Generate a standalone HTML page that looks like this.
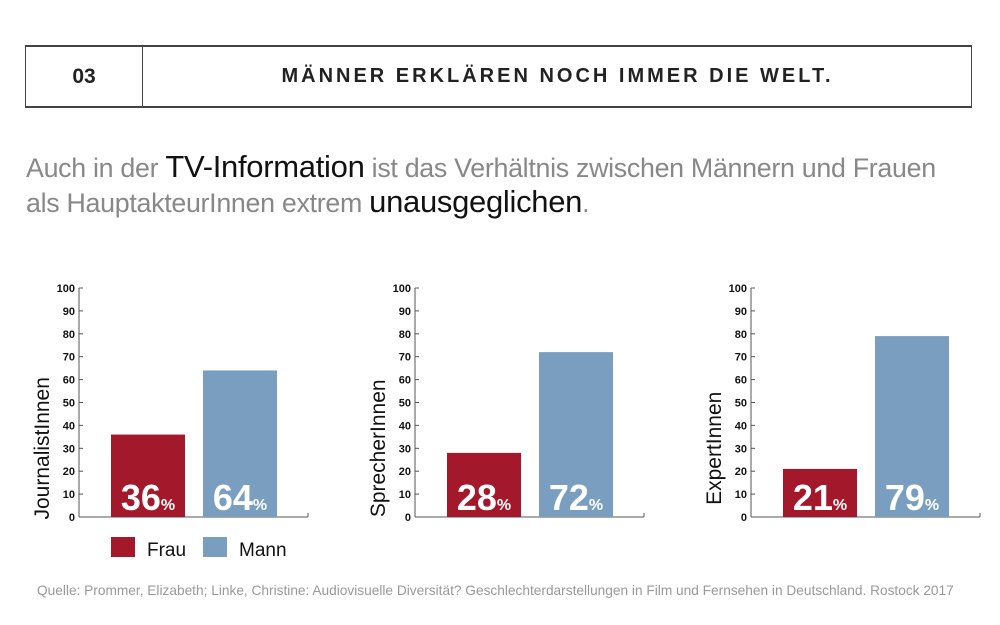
<!DOCTYPE html>
<html><head><meta charset="utf-8"><style>
body{margin:0;background:#fff;width:1000px;height:625px;overflow:hidden;font-family:"Liberation Sans","DejaVu Sans",sans-serif}
#hdr{position:absolute;left:25px;top:45px;width:945px;height:59px;border:2px solid #444;border-left:1.5px solid #444;border-right:1.5px solid #444}
#num{position:absolute;left:0;top:0;width:116px;height:59px;border-right:1.5px solid #444;font-weight:bold;font-size:21px;line-height:59px;text-align:center;color:#222}
#ttl{position:absolute;left:118px;right:0;top:0;height:59px;line-height:59px;text-align:center;font-weight:bold;font-size:20px;letter-spacing:3px;color:#222}
#intro{position:absolute;left:26px;top:150px;font-size:26.8px;color:#888;line-height:34px;font-weight:300;white-space:nowrap;letter-spacing:-0.3px}
#intro b{color:#111;font-weight:normal;font-size:31px}
#src{position:absolute;left:37px;top:583px;font-size:13.7px;color:#999;white-space:nowrap}
</style></head><body>
<div id="hdr"><div id="num">03</div><div id="ttl">MÄNNER ERKLÄREN NOCH IMMER DIE WELT.</div></div>
<div id="intro">Auch in der <b>TV-Information</b> ist das Verhältnis zwischen Männern und Frauen<br>als HauptakteurInnen extrem <b>unausgeglichen</b>.</div>
<svg id="chart" width="1000" height="625" style="position:absolute;left:0;top:0"></svg>
<div id="src">Quelle: Prommer, Elizabeth; Linke, Christine: Audiovisuelle Diversität? Geschlechterdarstellungen in Film und Fernsehen in Deutschland. Rostock 2017</div>
<script>
const categories=["JournalistInnen","SprecherInnen","ExpertInnen"];
const frauValues=[36,28,21];
const mannValues=[64,72,79];
const ticks=[0,10,20,30,40,50,60,70,80,90,100];
const NS="http://www.w3.org/2000/svg";
const svg=document.getElementById('chart');
const RED="#a3182a",BLUE="#7a9ebf";
function y(v){return 517-v*2.29;}
function mk(t,a,p){const e=document.createElementNS(NS,t);for(const k in a)e.setAttribute(k,a[k]);(p||svg).appendChild(e);return e;}
categories.forEach((c,i)=>{
  const ax=79+i*336;
  const g=mk('g',{});
  
  
  mk('line',{x1:ax,y1:y(100),x2:ax,y2:517,stroke:'#555','stroke-width':1},g);
  mk('line',{x1:ax,y1:517,x2:ax+229,y2:517,stroke:'#555','stroke-width':1},g);
  mk('line',{x1:ax+229,y1:513,x2:ax+229,y2:517,stroke:'#555','stroke-width':1},g);
  ticks.forEach(t=>{
    mk('line',{x1:ax,y1:y(t),x2:ax+4,y2:y(t),stroke:'#555'},g);
    const tx=mk('text',{x:ax-4,y:y(t)+4,'text-anchor':'end','font-size':11,'font-weight':'bold',fill:'#111'},g);
    tx.textContent=t;
    
    
  });
  const lab=mk('text',{x:0,y:0,transform:`translate(${ax-30},${(y(0)+y(60))/2}) rotate(-90)`,'text-anchor':'middle','font-size':21,fill:'#111'},g);
  lab.textContent=c;
  
  
  [[frauValues[i],RED,32,'frau'],[mannValues[i],BLUE,124,'mann']].forEach(([v,col,off,n])=>{
    const r=mk('rect',{x:ax+off,y:y(v),width:74,height:517-y(v),fill:col},g);
    
    
    const t=mk('text',{x:ax+off+37,y:510,'text-anchor':'middle',fill:'#fff','font-weight':'bold','font-size':36},g);
    t.innerHTML=v+'<tspan font-size="16">%</tspan>';
    
    
  });
});
[[111,RED,'Frau'],[203,BLUE,'Mann']].forEach(([x,c,n])=>{
  const r=mk('rect',{x:x,y:537,width:24,height:20,fill:c});
  
  
  const t=mk('text',{x:x+36,y:556,'font-size':19,fill:'#111'});
  t.textContent=n;
  
  
});
</script>
</body></html>
